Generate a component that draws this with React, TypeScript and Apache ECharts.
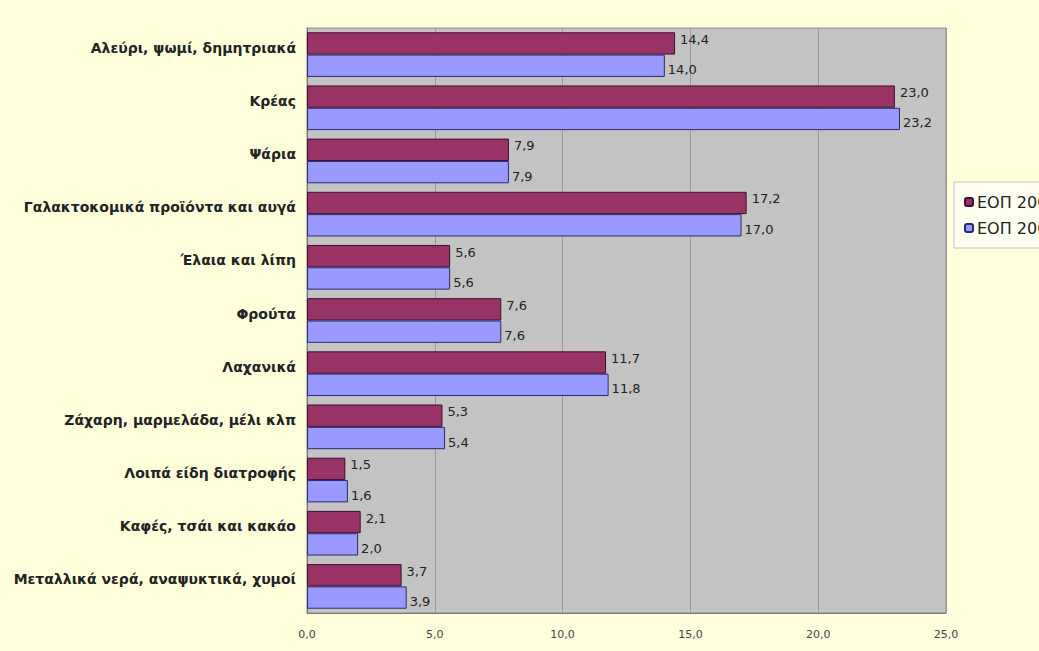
import React, { useEffect, useRef } from "react";
import * as echarts from "echarts";

const categories = [
  "Αλεύρι, ψωμί, δημητριακά",
  "Κρέας",
  "Ψάρια",
  "Γαλακτοκομικά προϊόντα και αυγά",
  "Έλαια και λίπη",
  "Φρούτα",
  "Λαχανικά",
  "Ζάχαρη, μαρμελάδα, μέλι κλπ",
  "Λοιπά είδη διατροφής",
  "Καφές, τσάι και κακάο",
  "Μεταλλικά νερά, αναψυκτικά, χυμοί",
];
const seriesNames = ["ΕΟΠ 2004/05", "ΕΟΠ 2008"];
const valuesA = [14.4, 23.0, 7.9, 17.2, 5.6, 7.6, 11.7, 5.3, 1.5, 2.1, 3.7];
const valuesB = [14.0, 23.2, 7.9, 17.0, 5.6, 7.6, 11.8, 5.4, 1.6, 2.0, 3.9];
const xTicks = { min: 0, max: 25, interval: 5 };

const fmt = (v: number) => v.toFixed(1).replace(".", ",");

export default function App() {
  const ref = useRef<HTMLDivElement>(null);
  useEffect(() => {
    if (!ref.current) return;
    const chart = echarts.init(ref.current, undefined, { renderer: "svg" });
    const font = "'DejaVu Sans', 'Liberation Sans', Arial, sans-serif";
    chart.setOption({
      animation: false,
      backgroundColor: "#FFFFDC",
      textStyle: { fontFamily: font },
      grid: {
        left: 307,
        right: 93,
        top: 28,
        bottom: 38,
        show: true,
        backgroundColor: "#C3C3C3",
        borderColor: "#8a8a8a",
        borderWidth: 1,
      },
      legend: {
        orient: "vertical",
        left: 954,
        top: 182,
        itemWidth: 8,
        itemHeight: 8,
        itemGap: 10,
        padding: [12, 10, 12, 10],
        backgroundColor: "#FFFFF2",
        borderColor: "#c0c0c0",
        borderWidth: 1,
        textStyle: { fontSize: 16, color: "#222", fontFamily: font, padding: [0, 0, 0, -1] },
        data: seriesNames,
      },
      xAxis: {
        type: "value",
        min: xTicks.min,
        max: xTicks.max,
        interval: xTicks.interval,
        axisLine: { show: true, lineStyle: { color: "#777" } },
        axisTick: { show: false },
        splitLine: { show: true, lineStyle: { color: "#999", width: 1 } },
        axisLabel: {
          formatter: (v: number) => fmt(v),
          color: "#444",
          fontSize: 11,
          margin: 16,
        },
      },
      yAxis: {
        type: "category",
        inverse: true,
        data: categories,
        axisLine: { show: true, lineStyle: { color: "#777" } },
        axisTick: { show: false },
        axisLabel: {
          color: "#222",
          fontWeight: "bold",
          fontSize: 14,
          margin: 11,
          verticalAlign: "bottom",
        },
      },
      series: [
        {
          name: seriesNames[0],
          type: "bar",
          data: valuesA,
          barGap: "0%",
          barCategoryGap: "16%",
          itemStyle: { color: "#993366", borderColor: "#3a1030", borderWidth: 1 },
          label: {
            show: true,
            position: "right",
            distance: 5,
            offset: [0, -4],
            formatter: (p: any) => fmt(p.value),
            color: "#222",
            fontSize: 13,
          },
        },
        {
          name: seriesNames[1],
          type: "bar",
          data: valuesB,
          itemStyle: { color: "#9999FF", borderColor: "#2a2a70", borderWidth: 1 },
          label: {
            show: true,
            position: "right",
            distance: 3,
            offset: [0, 4],
            formatter: (p: any) => fmt(p.value),
            color: "#222",
            fontSize: 13,
          },
        },
      ],
    });
    return () => chart.dispose();
  }, []);
  return (
    <div
      ref={ref}
      style={{ position: "absolute", left: 0, top: 0, width: 1039, height: 651, overflow: "hidden" }}
    />
  );
}
